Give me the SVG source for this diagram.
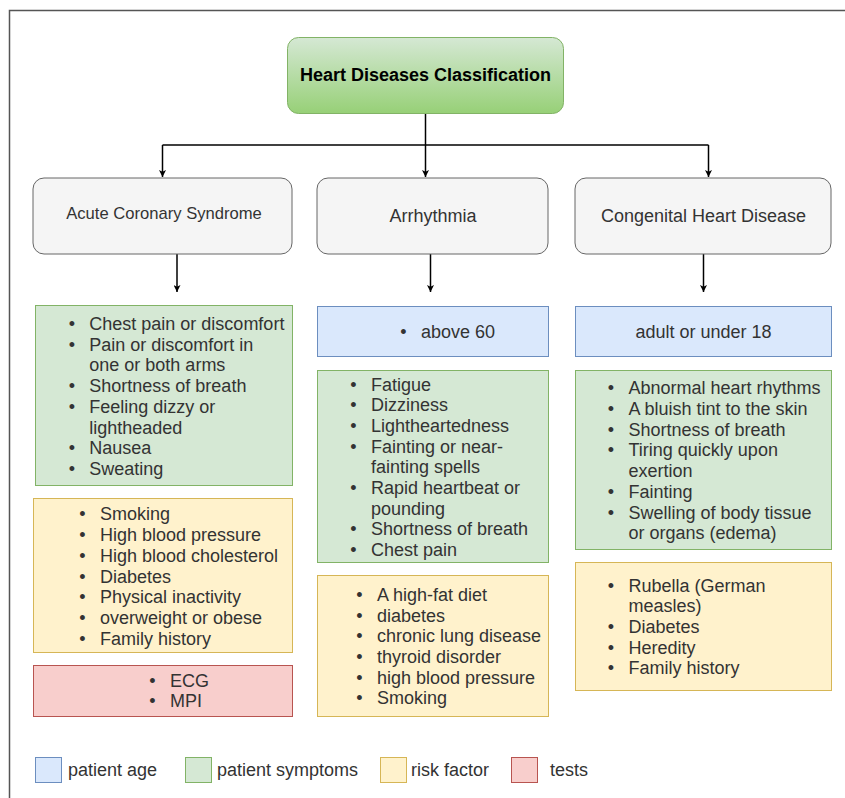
<svg xmlns="http://www.w3.org/2000/svg" width="845" height="798" viewBox="0 0 845 798">
<style>
text{font-family:"Liberation Sans",Arial,sans-serif;fill:#333;}
.t{font-size:18px;}
.b{font-size:18px;text-anchor:middle;}
.cat{fill:#f5f5f5;stroke:#666;stroke-width:1;}
.g{fill:#d5e8d4;stroke:#82b366;stroke-width:1;}
.y{fill:#fff2cc;stroke:#d6b656;stroke-width:1;}
.r{fill:#f8cecc;stroke:#b85450;stroke-width:1;}
.bl{fill:#dae8fc;stroke:#6c8ebf;stroke-width:1;}
.edge{fill:none;stroke:#000;stroke-width:1.5;}
</style>
<defs>
<linearGradient id="gg" x1="0" y1="0" x2="0" y2="1">
<stop offset="0" stop-color="#d5e8d4"/>
<stop offset="1" stop-color="#97d077"/>
</linearGradient>
<marker id="ah" viewBox="0 0 10 10" refX="10" refY="5" markerWidth="7" markerHeight="7" markerUnits="userSpaceOnUse" orient="auto">
<path d="M0,0 L10,5 L0,10 L2.5,5 Z" fill="#000"/>
</marker>
</defs>
<rect width="845" height="798" fill="#fff"/>
<path d="M9.5,800 V10.5 H846" fill="none" stroke="#555" stroke-width="1.5"/>

<g id="edges">
<path class="edge" d="M425.5,113 V145"/>
<path class="edge" d="M162.5,145 H708.5"/>
<path class="edge" d="M162.5,145 V177" marker-end="url(#ah)"/>
<path class="edge" d="M425.5,145 V177" marker-end="url(#ah)"/>
<path class="edge" d="M708.5,145 V177" marker-end="url(#ah)"/>
<path class="edge" d="M177,254 V292" marker-end="url(#ah)"/>
<path class="edge" d="M430.5,254 V292" marker-end="url(#ah)"/>
<path class="edge" d="M703.5,254 V292" marker-end="url(#ah)"/>
</g>

<g id="root">
<rect x="287.5" y="37.5" width="276" height="76" rx="11" fill="url(#gg)" stroke="#82b366"/>
<text x="425.5" y="81" text-anchor="middle" style="font-size:18px;font-weight:bold;fill:#000">Heart Diseases Classification</text>
</g>

<g id="acs">
<rect class="cat" x="33" y="178" width="259" height="76" rx="11"/>
<text x="164" y="219" text-anchor="middle" style="font-size:16.6px">Acute Coronary Syndrome</text>
</g>
<g id="arrhythmia">
<rect class="cat" x="317" y="178" width="231" height="76" rx="11"/>
<text x="433" y="221.5" text-anchor="middle" style="font-size:18px">Arrhythmia</text>
</g>
<g id="congenital">
<rect class="cat" x="575" y="178" width="256" height="76" rx="11"/>
<text x="703.5" y="221.5" text-anchor="middle" style="font-size:18px">Congenital Heart Disease</text>
</g>

<g id="acs-symptoms">
<rect class="g" x="35.5" y="305.5" width="257" height="180"/>
<g class="b"><text x="71.8" y="330">•</text><text x="71.8" y="350.7">•</text><text x="71.8" y="392.1">•</text><text x="71.8" y="412.8">•</text><text x="71.8" y="454.2">•</text><text x="71.8" y="474.9">•</text></g>
<g class="t">
<text x="89.3" y="330">Chest pain or discomfort</text>
<text x="89.3" y="350.7">Pain or discomfort in</text>
<text x="89.3" y="371.4">one or both arms</text>
<text x="89.3" y="392.1">Shortness of breath</text>
<text x="89.3" y="412.8">Feeling dizzy or</text>
<text x="89.3" y="433.5">lightheaded</text>
<text x="89.3" y="454.2">Nausea</text>
<text x="89.3" y="474.9">Sweating</text>
</g>
</g>

<g id="acs-risk">
<rect class="y" x="33.5" y="498.5" width="259" height="154"/>
<g class="b"><text x="82.5" y="520.4">•</text><text x="82.5" y="541.1">•</text><text x="82.5" y="561.8">•</text><text x="82.5" y="582.5">•</text><text x="82.5" y="603.2">•</text><text x="82.5" y="623.9">•</text><text x="82.5" y="644.6">•</text></g>
<g class="t">
<text x="100" y="520.4">Smoking</text>
<text x="100" y="541.1">High blood pressure</text>
<text x="100" y="561.8">High blood cholesterol</text>
<text x="100" y="582.5">Diabetes</text>
<text x="100" y="603.2">Physical inactivity</text>
<text x="100" y="623.9">overweight or obese</text>
<text x="100" y="644.6">Family history</text>
</g>
</g>

<g id="acs-tests">
<rect class="r" x="33.5" y="665.5" width="259" height="51"/>
<g class="b"><text x="152.5" y="686.5">•</text><text x="152.5" y="707.2">•</text></g>
<g class="t">
<text x="170" y="686.5">ECG</text>
<text x="170" y="707.2">MPI</text>
</g>
</g>

<g id="arr-age">
<rect class="bl" x="317.5" y="306.5" width="231" height="50"/>
<text class="b" x="403.5" y="338">•</text>
<text class="t" x="421" y="338">above 60</text>
</g>

<g id="arr-symptoms">
<rect class="g" x="317.5" y="370.5" width="231" height="192"/>
<g class="b"><text x="353.5" y="390.5">•</text><text x="353.5" y="411.2">•</text><text x="353.5" y="431.9">•</text><text x="353.5" y="452.6">•</text><text x="353.5" y="494">•</text><text x="353.5" y="535.4">•</text><text x="353.5" y="556.1">•</text></g>
<g class="t">
<text x="371" y="390.5">Fatigue</text>
<text x="371" y="411.2">Dizziness</text>
<text x="371" y="431.9">Lightheartedness</text>
<text x="371" y="452.6">Fainting or near-</text>
<text x="371" y="473.3">fainting spells</text>
<text x="371" y="494">Rapid heartbeat or</text>
<text x="371" y="514.7">pounding</text>
<text x="371" y="535.4">Shortness of breath</text>
<text x="371" y="556.1">Chest pain</text>
</g>
</g>

<g id="arr-risk">
<rect class="y" x="317.5" y="575.5" width="231" height="141"/>
<g class="b"><text x="359.5" y="600.8">•</text><text x="359.5" y="621.5">•</text><text x="359.5" y="642.2">•</text><text x="359.5" y="662.9">•</text><text x="359.5" y="683.6">•</text><text x="359.5" y="704.3">•</text></g>
<g class="t">
<text x="377" y="600.8">A high-fat diet</text>
<text x="377" y="621.5">diabetes</text>
<text x="377" y="642.2">chronic lung disease</text>
<text x="377" y="662.9">thyroid disorder</text>
<text x="377" y="683.6">high blood pressure</text>
<text x="377" y="704.3">Smoking</text>
</g>
</g>

<g id="cong-age">
<rect class="bl" x="575.5" y="306.5" width="256" height="50"/>
<text class="b" x="703.5" y="338">adult or under 18</text>
</g>

<g id="cong-symptoms">
<rect class="g" x="575.5" y="370.5" width="256" height="179"/>
<g class="b"><text x="611" y="394.3">•</text><text x="611" y="415">•</text><text x="611" y="435.7">•</text><text x="611" y="456.4">•</text><text x="611" y="497.8">•</text><text x="611" y="518.5">•</text></g>
<g class="t">
<text x="628.5" y="394.3">Abnormal heart rhythms</text>
<text x="628.5" y="415">A bluish tint to the skin</text>
<text x="628.5" y="435.7">Shortness of breath</text>
<text x="628.5" y="456.4">Tiring quickly upon</text>
<text x="628.5" y="477.1">exertion</text>
<text x="628.5" y="497.8">Fainting</text>
<text x="628.5" y="518.5">Swelling of body tissue</text>
<text x="628.5" y="539.2">or organs (edema)</text>
</g>
</g>

<g id="cong-risk">
<rect class="y" x="575.5" y="562.5" width="256" height="128"/>
<g class="b"><text x="611" y="591.5">•</text><text x="611" y="632.9">•</text><text x="611" y="653.6">•</text><text x="611" y="674.3">•</text></g>
<g class="t">
<text x="628.5" y="591.5">Rubella (German</text>
<text x="628.5" y="612.2">measles)</text>
<text x="628.5" y="632.9">Diabetes</text>
<text x="628.5" y="653.6">Heredity</text>
<text x="628.5" y="674.3">Family history</text>
</g>
</g>

<g id="legend">
<rect class="bl" x="35.5" y="757.5" width="26" height="25"/>
<text class="t" x="68" y="776">patient age</text>
<rect class="g" x="185.5" y="757.5" width="26" height="25"/>
<text class="t" x="217" y="776">patient symptoms</text>
<rect class="y" x="380.5" y="757.5" width="26" height="25"/>
<text class="t" x="411" y="776">risk factor</text>
<rect class="r" x="511.5" y="757.5" width="26" height="25"/>
<text class="t" x="550" y="776">tests</text>
</g>
</svg>
